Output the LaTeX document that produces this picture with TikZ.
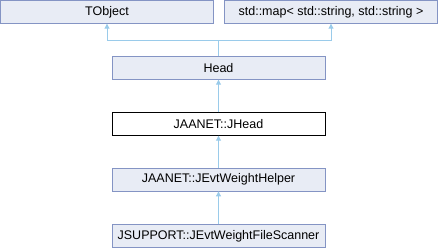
\documentclass[tikz,border=0pt]{standalone}
\usepackage{fontspec}
\setmainfont{Liberation Sans}
\usetikzlibrary{arrows.meta, positioning}

\definecolor{boxfill}{HTML}{E8ECF5}
\definecolor{boxline}{HTML}{8494C4}
\definecolor{edgecol}{HTML}{9ACBEA}

\begin{document}
\begin{tikzpicture}[
    x=1pt, y=-1pt,
    arr/.style={-{Triangle[length=5pt, width=5pt]}, draw=edgecol, line width=0.9pt},
    cls/.style={rectangle, draw=boxline, fill=boxfill, line width=0.9pt, minimum width=213pt, minimum height=22.5pt, inner sep=0pt, font=\fontsize{12.5}{14}\selectfont},
    cur/.style={cls, draw=black, fill=white},
]
    \useasboundingbox (0,0) rectangle (438,248);

    \node[cls] (TObject) at (107,12) {TObject};
    \node[cls] (Map) at (331,12) {std::map< std::string, std::string >};

    \node[cls] (Head) at (218.5,68) {Head};
    \node[cur] (JHead) at (218.5,124) {JAANET::JHead};
    \node[cls] (Helper) at (218.5,179.7) {JAANET::JEvtWeightHelper};
    \node[cls] (Scanner) at (218.5,236) {JSUPPORT::JEvtWeightFileScanner};

    \coordinate (J) at (218.5,40.7);

    \draw[draw=edgecol, line width=0.9pt] (Head) -- (J);
    \draw[arr] (J) -| (TObject);
    \draw[arr] (J) -| (Map);

    \draw[arr] (JHead) -- (Head);
    \draw[arr] (Helper) -- (JHead);
    \draw[arr] (Scanner) -- (Helper);

\end{tikzpicture}
\end{document}
